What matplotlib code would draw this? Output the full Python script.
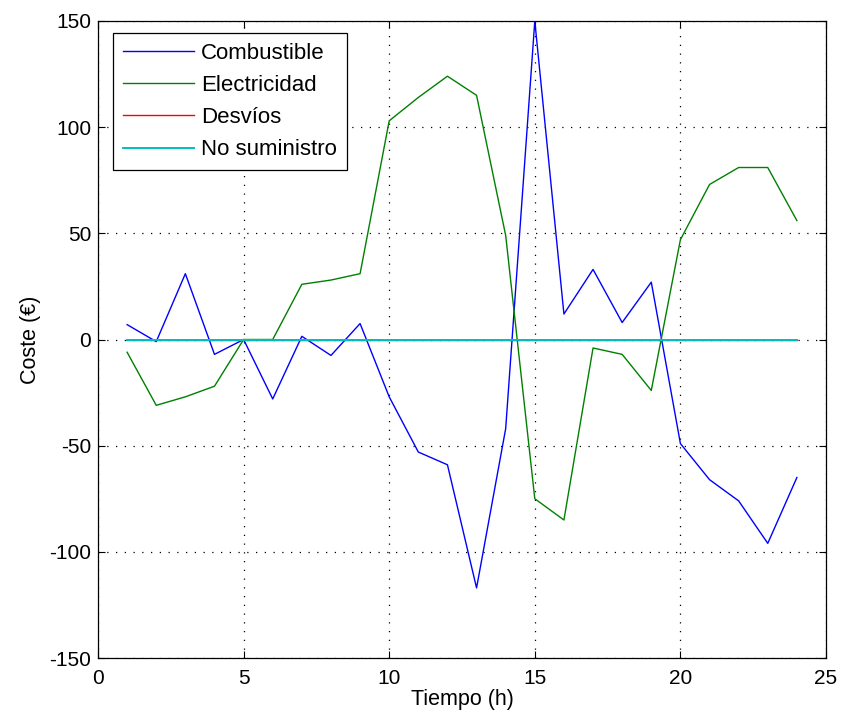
import matplotlib
matplotlib.use("Agg")
import matplotlib.pyplot as plt
import numpy as np

plt.rcParams['font.family'] = ['Liberation Sans', 'DejaVu Sans']
plt.rcParams['axes.unicode_minus'] = False

horas = list(range(1, 25))
combustible = [7, -1, 31, -7, 0, -28, 1.5, -7.5, 7.5, -27, -53, -59, -117, -42,
               150, 12, 33, 8, 27, -49, -66, -76, -96, -65]
electricidad = [-6, -31, -27, -22, 0, 0, 26, 28, 31, 103, 114, 124, 115, 49,
                -75, -85, -4, -7, -24, 47, 73, 81, 81, 56]
desvios = [0] * 24
no_suministro = [0] * 24

fig = plt.figure(figsize=(8.42, 7.24), dpi=100)
ax = fig.add_axes([98/842, 1-658/724, (826-98)/842, (658-21)/724])

ax.plot(horas, combustible, color=(0, 0, 1), lw=1, label='Combustible')
ax.plot(horas, electricidad, color=(0, 0.5, 0), lw=1, label='Electricidad')
ax.plot(horas, desvios, color=(1, 0, 0), lw=1, label='Desvíos')
ax.plot(horas, no_suministro, color=(0, 0.75, 0.75), lw=1.4, label='No suministro')

ax.set_xlim(0, 25)
ax.set_ylim(-150, 150)
ax.set_xticks(np.arange(0, 26, 5))
ax.set_yticks(np.arange(-150, 151, 50))
ax.grid(True, linestyle=(0, (1, 6)), color='black', lw=0.9)
ax.tick_params(direction='in', top=True, right=True, length=5, labelsize=15,
               width=0.8, colors='black')
ax.tick_params(axis='x', pad=8)
ax.tick_params(axis='y', pad=5)
for s in ax.spines.values():
    s.set_linewidth(0.9)
ax.set_xlabel('Tiempo (h)', fontsize=15.5, labelpad=1)
ax.set_ylabel('Coste (€)', fontsize=15.5, labelpad=6)

leg = ax.legend(loc='upper left', bbox_to_anchor=((113-98)/728, (658-33)/637),
                borderaxespad=0, fontsize=16, fancybox=False, edgecolor='black',
                framealpha=1, handlelength=3.2, handletextpad=0.3,
                labelspacing=0.5, borderpad=0.45)
leg.get_frame().set_linewidth(0.9)

fig.savefig('out.png', dpi=100)
